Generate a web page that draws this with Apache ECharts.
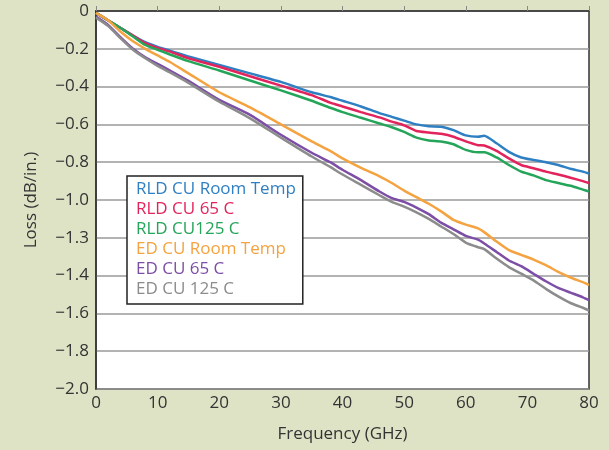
<!DOCTYPE html>
<html>
<head>
<meta charset="utf-8">
<script src="https://cdn.jsdelivr.net/npm/echarts@6/dist/echarts.min.js"></script>
<style>
html,body{margin:0;padding:0;background:#dfe3c6;}
#chart{width:609px;height:450px;}
</style>
</head>
<body>
<div id="chart"></div>
<script>
const freq = [0,2,4,6,8,10,12,15,20,25,30,35,38,40,43,46,48,50,52,54,56,58,60,62,63,65,67,69,71,73,75,77,79,80];
const rldRoom = [-0.01,-0.05,-0.09,-0.13,-0.165,-0.19,-0.21,-0.24,-0.285,-0.33,-0.375,-0.43,-0.455,-0.475,-0.505,-0.54,-0.56,-0.58,-0.6,-0.61,-0.612,-0.63,-0.658,-0.665,-0.66,-0.7,-0.745,-0.775,-0.788,-0.8,-0.815,-0.835,-0.85,-0.86];
const rld65 = [-0.01,-0.05,-0.09,-0.13,-0.17,-0.195,-0.215,-0.25,-0.295,-0.345,-0.395,-0.445,-0.485,-0.505,-0.535,-0.563,-0.585,-0.605,-0.635,-0.643,-0.65,-0.665,-0.69,-0.71,-0.712,-0.74,-0.78,-0.815,-0.832,-0.85,-0.865,-0.882,-0.9,-0.91];
const rld125 = [-0.01,-0.05,-0.09,-0.135,-0.18,-0.205,-0.23,-0.265,-0.315,-0.368,-0.42,-0.475,-0.512,-0.535,-0.565,-0.595,-0.615,-0.64,-0.67,-0.685,-0.69,-0.705,-0.735,-0.748,-0.748,-0.775,-0.815,-0.85,-0.87,-0.895,-0.91,-0.925,-0.945,-0.955];
const edRoom = [-0.01,-0.05,-0.11,-0.16,-0.2,-0.235,-0.27,-0.33,-0.43,-0.51,-0.6,-0.69,-0.74,-0.78,-0.83,-0.875,-0.91,-0.95,-0.985,-1.02,-1.06,-1.105,-1.13,-1.15,-1.17,-1.22,-1.265,-1.29,-1.315,-1.345,-1.38,-1.41,-1.435,-1.45];
const ed65 = [-0.03,-0.075,-0.14,-0.2,-0.245,-0.28,-0.315,-0.37,-0.47,-0.55,-0.655,-0.75,-0.8,-0.84,-0.895,-0.955,-0.99,-1.01,-1.04,-1.075,-1.12,-1.155,-1.19,-1.21,-1.23,-1.275,-1.32,-1.35,-1.39,-1.43,-1.465,-1.49,-1.515,-1.53];
const ed125 = [-0.035,-0.08,-0.145,-0.205,-0.25,-0.29,-0.325,-0.38,-0.48,-0.568,-0.67,-0.77,-0.825,-0.865,-0.92,-0.975,-1.01,-1.035,-1.065,-1.1,-1.14,-1.18,-1.225,-1.25,-1.26,-1.31,-1.355,-1.39,-1.425,-1.47,-1.51,-1.545,-1.57,-1.585];
const yTickLabels = ['0','\u22120.2','\u22120.4','\u22120.6','\u22120.8','\u22121.0','\u22121.3','\u22121.4','\u22121.6','\u22121.8','\u22122.0'];
const xTickLabels = ['0','10','20','30','40','50','60','70','80'];
const seriesNames = ['RLD CU Room Temp','RLD CU 65 C','RLD CU125 C','ED CU Room Temp','ED CU 65 C','ED CU 125 C'];
const seriesColors = ['#2f7fc3','#e2245c','#25a55a','#f4a340','#7d4ea6','#8c8c8c'];
const seriesData = [rldRoom, rld65, rld125, edRoom, ed65, ed125];

const FONT = 'Open Sans';
const chart = echarts.init(document.getElementById('chart'));
chart.setOption({
  backgroundColor: '#dfe3c6',
  animation: false,
  textStyle: {fontFamily: FONT},
  grid: {left: 96, right: 20, top: 11, bottom: 61, show: true, backgroundColor: '#ffffff', borderColor: '#333', borderWidth: 1.5},
  legend: {
    orient: 'vertical', left: 127, top: 176,
    icon: 'none', itemWidth: 0, itemHeight: 16, itemGap: 3,
    backgroundColor: '#ffffff', borderColor: '#222', borderWidth: 1.5,
    padding: [5, 7, 6, 4],
    selectedMode: false,
    data: seriesNames.map((n, i) => ({name: n, textStyle: {color: seriesColors[i]}})),
    textStyle: {fontFamily: FONT, fontSize: 17, lineHeight: 16}
  },
  xAxis: {
    type: 'value', min: 0, max: 80, interval: 10,
    name: 'Frequency (GHz)', nameLocation: 'middle', nameGap: 37,
    nameTextStyle: {fontFamily: FONT, fontSize: 17, color: '#333'},
    axisLine: {lineStyle: {color: '#333', width: 1.5}},
    axisTick: {inside: true, length: 5, lineStyle: {color: '#888'}},
    splitLine: {show: false},
    axisLabel: {fontFamily: FONT, fontSize: 17, color: '#333', margin: 6,
      formatter: v => xTickLabels[Math.round(v / 10)]}
  },
  yAxis: {
    type: 'value', min: -2, max: 0, interval: 0.2,
    name: 'Loss (dB/in.)', nameLocation: 'middle', nameGap: 56, nameRotate: 90,
    nameTextStyle: {fontFamily: FONT, fontSize: 17, color: '#333'},
    axisLine: {show: true, lineStyle: {color: '#333', width: 1.5}},
    axisTick: {show: false},
    splitLine: {show: true, lineStyle: {color: '#9a9a9a', width: 1.5}},
    axisLabel: {fontFamily: FONT, fontSize: 17, color: '#333', margin: 7,
      formatter: v => yTickLabels[Math.round(-v / 0.2)]}
  },
  series: seriesData.map((d, i) => ({
    name: seriesNames[i], type: 'line', showSymbol: false, smooth: 0.2,
    color: seriesColors[i],
    lineStyle: {width: 2.5, color: seriesColors[i]},
    data: freq.map((f, k) => [f, d[k]]),
    z: 2
  }))
});
</script>
</body>
</html>
